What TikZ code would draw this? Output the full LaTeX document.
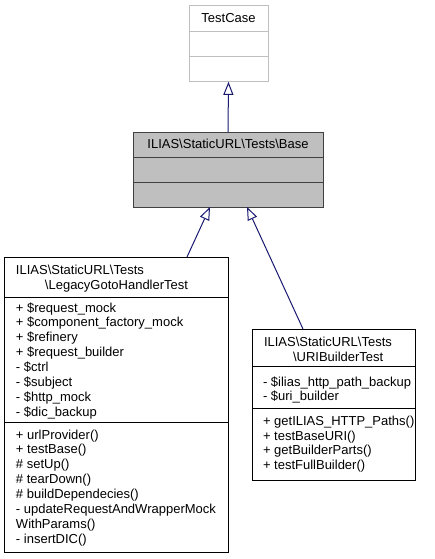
\documentclass[tikz,border=0pt]{standalone}
\usepackage{fontspec}
\setmainfont{Liberation Sans}
\usetikzlibrary{arrows.meta,calc}
\definecolor{edgeblue}{RGB}{25,25,112}
\definecolor{greyfill}{RGB}{191,191,191}
\definecolor{greyline}{RGB}{191,191,191}
\definecolor{darkline}{RGB}{64,64,64}
\tikzset{
  classbox/.style={draw=black, line width=1pt, inner sep=0pt, outer sep=0pt, anchor=north west},
  divider/.style={line width=1pt},
  txt/.style={inner sep=0pt, outer sep=0pt, anchor=base west, font=\fontsize{13}{14.9}\selectfont},
  ctxt/.style={inner sep=0pt, outer sep=0pt, anchor=base, font=\fontsize{13}{14.9}\selectfont},
  inh/.style={draw=edgeblue, line width=1pt, -{Triangle[open, length=13pt, width=10pt, line width=1pt]}}
}
\begin{document}
\begin{tikzpicture}[x=1pt,y=-1pt]
\useasboundingbox (0,0) rectangle (434,559);

% TestCase
\node[classbox, draw=greyline, fill=white, minimum width=79pt, minimum height=76.5pt] (testcase) at (189,5.3) {};
\draw[divider, greyline] (189,31.3) -- (268,31.3);
\draw[divider, greyline] (189,56.7) -- (268,56.7);
\node[ctxt] (tctitle) at (228.5,22.5) {TestCase};

% Base
\node[classbox, draw=darkline, fill=greyfill, minimum width=190pt, minimum height=75pt] (base) at (133,132) {};
\draw[divider, darkline] (133,157) -- (323,157);
\draw[divider, darkline] (133,182) -- (323,182);
\node[ctxt] (basetitle) at (228,148) {ILIAS\textbackslash StaticURL\textbackslash Tests\textbackslash Base};

% LegacyGotoHandlerTest
\node[classbox, fill=white, minimum width=224pt, minimum height=295pt] (legacy) at (4,257) {};
\draw[divider] (4,297) -- (228,297);
\draw[divider] (4,422) -- (228,422);
\node[txt] (lh1) at (16,274) {ILIAS\textbackslash StaticURL\textbackslash Tests};
\node[ctxt] (lh2) at (116.5,289) {\textbackslash LegacyGotoHandlerTest};
\foreach \t [count=\i] in {
  {+ \$request\_mock},
  {+ \$component\_factory\_mock},
  {+ \$refinery},
  {+ \$request\_builder},
  {- \$ctrl},
  {- \$subject},
  {- \$http\_mock},
  {- \$dic\_backup}}
  \node[txt] (la\i) at (16,{312+14.9*(\i-1)}) {\t};
\foreach \t [count=\i] in {
  {+ urlProvider()},
  {+ testBase()},
  {\# setUp()},
  {\# tearDown()},
  {\# buildDependecies()},
  {- updateRequestAndWrapperMock},
  {WithParams()},
  {- insertDIC()}}
  \node[txt] (lm\i) at (16,{439+14.9*(\i-1)}) {\t};

% URIBuilderTest
\node[classbox, fill=white, minimum width=163pt, minimum height=151pt] (uri) at (252,329) {};
\draw[divider] (252,366) -- (415,366);
\draw[divider] (252,408) -- (415,408);
\node[txt] (uh1) at (264,346) {ILIAS\textbackslash StaticURL\textbackslash Tests};
\node[txt] (uh2) at (293,361) {\textbackslash URIBuilderTest};
\foreach \t [count=\i] in {
  {- \$ilias\_http\_path\_backup},
  {- \$uri\_builder}}
  \node[txt] (ua\i) at (263,{386+14.9*(\i-1)}) {\t};
\foreach \t [count=\i] in {
  {+ getILIAS\_HTTP\_Paths()},
  {+ testBaseURI()},
  {+ getBuilderParts()},
  {+ testFullBuilder()}}
  \node[txt] (um\i) at (263,{425.5+14.7*(\i-1)}) {\t};

% Inheritance connectors
\draw[inh] (base.north) -- (testcase.south);
\draw[inh] ($(legacy.north west)+(183,0)$) -- ($(base.south west)+(77,0)$);
\draw[inh] ($(uri.north west)+(51,0)$) -- ($(base.south west)+(114,0)$);
\end{tikzpicture}
\end{document}
